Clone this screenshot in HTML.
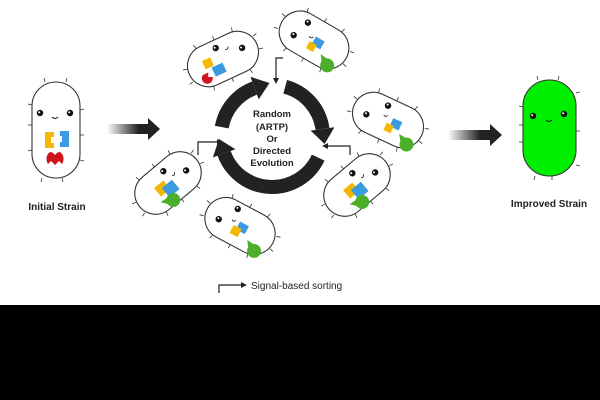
<!DOCTYPE html>
<html><head><meta charset="utf-8"><style>
html,body{margin:0;padding:0;background:#fff}
svg{display:block}
text{font-family:"Liberation Sans",sans-serif}
</style></head><body>
<svg width="600" height="400" viewBox="0 0 600 400" xmlns="http://www.w3.org/2000/svg">
<defs>
<linearGradient id="g1" x1="0" x2="1"><stop offset="0" stop-color="#222" stop-opacity="0"/><stop offset="0.6" stop-color="#222"/></linearGradient>
<g id="cell">
 <g stroke="#333" stroke-width="0.8">
  <line x1="-20" y1="-21" x2="-21" y2="-25"/><line x1="0" y1="-21" x2="0" y2="-25"/><line x1="20" y1="-21" x2="21" y2="-25"/>
  <line x1="-20" y1="21" x2="-21" y2="25"/><line x1="0" y1="21" x2="0" y2="25"/><line x1="20" y1="21" x2="21" y2="25"/>
  <line x1="-37" y1="-6" x2="-41" y2="-7"/><line x1="37" y1="6" x2="41" y2="7"/><line x1="-37" y1="8" x2="-41" y2="9"/><line x1="37" y1="-8" x2="41" y2="-9"/>
 </g>
 <rect x="-37" y="-21" width="74" height="42" rx="21" fill="#fff" stroke="#333" stroke-width="1.1"/>
</g>
<g id="eye"><circle r="3.2" fill="#111"/><circle cx="-0.8" cy="-0.8" r="1" fill="#fff"/></g>
<g id="pac"><path d="M0,0 L6.5,-3 A7,7 0 1 1 6.5,3 Z" fill="#4caf2a" transform="rotate(30)"/></g>
</defs>

<!-- initial strain -->
<g stroke="#333" stroke-width="0.8">
 <line x1="45" y1="82" x2="44" y2="78"/><line x1="66" y1="82" x2="67" y2="78"/>
 <line x1="32" y1="105" x2="28" y2="104"/><line x1="32" y1="125" x2="28" y2="125"/><line x1="32" y1="150" x2="28" y2="151"/>
 <line x1="80" y1="110" x2="84" y2="109"/><line x1="80" y1="135" x2="84" y2="135"/><line x1="80" y1="160" x2="84" y2="161"/>
 <line x1="42" y1="178" x2="41" y2="182"/><line x1="62" y1="178" x2="63" y2="182"/>
</g>
<rect x="32" y="82" width="48" height="96" rx="24" fill="#fff" stroke="#333" stroke-width="1.1"/>
<use href="#eye" x="40" y="113"/><use href="#eye" x="70" y="113"/>
<path d="M52,117 q3,3 6,0" fill="none" stroke="#111" stroke-width="0.9"/>
<path d="M45,132 h9 v5 h-3 v6 h3 v5 h-9 z" fill="#f5b800"/>
<path d="M60,131 h9 v16 h-9 v-5 h2 v-6 h-2 z" fill="#3a9be0"/>
<path d="M50,152 q3,0 5,3 q2,-3 5,-3 a7,8 0 0 1 2,12 l-3,-3 l-4,4 l-4,-4 l-3,3 a7,8 0 0 1 2,-12z" fill="#d0141c"/>
<text x="57" y="210" text-anchor="middle" font-size="10" font-weight="bold" fill="#222">Initial Strain</text>

<!-- improved strain -->
<g stroke="#333" stroke-width="0.8">
 <line x1="538" y1="80" x2="537" y2="76"/><line x1="558" y1="80" x2="559" y2="76"/>
 <line x1="523" y1="107" x2="519" y2="106"/><line x1="523" y1="125" x2="519" y2="125"/><line x1="523" y1="142" x2="519" y2="142"/>
 <line x1="576" y1="93" x2="580" y2="92"/><line x1="576" y1="131" x2="580" y2="131"/><line x1="576" y1="165" x2="580" y2="166"/>
 <line x1="535" y1="176" x2="534" y2="180"/><line x1="552" y1="176" x2="552" y2="180"/>
</g>
<rect x="523" y="80" width="53" height="96" rx="26" fill="#00ee00" stroke="#333" stroke-width="1.1"/>
<use href="#eye" x="533" y="116"/><use href="#eye" x="564" y="114"/>
<path d="M546,120 q3,3 6,0" fill="none" stroke="#111" stroke-width="0.9"/>
<text x="549" y="207" text-anchor="middle" font-size="10" font-weight="bold" fill="#222">Improved Strain</text>

<!-- big arrows -->
<path d="M107,124 H148 V118 L160,129 L148,140 V134 H107 Z" fill="url(#g1)"/>
<path d="M448,130 H490 V124 L502,135 L490,146 V140 H448 Z" fill="url(#g1)"/>

<!-- ring -->
<g fill="none" stroke="#222" stroke-width="14">
 <path d="M221.8,127.1 A51,51 0 0 1 254.6,88.1"/>
 <path d="M285.2,86.7 A51,51 0 0 1 322.5,128.9"/>
 <path d="M318.2,157.6 A51,51 0 0 1 224.1,153.4"/>
</g>
<g fill="#222">
 <path d="M250.5,76.8 L258.7,99.4 L269.5,83 Z"/>
 <path d="M334.4,127.2 L310.6,130.6 L324.6,144 Z"/>
 <path d="M212.8,157.5 L235.4,149.3 L219,139 Z"/>
</g>
<g font-size="9.5" font-weight="bold" fill="#222" text-anchor="middle">
 <text x="272" y="117">Random</text><text x="272" y="130">(ARTP)</text><text x="272" y="142">Or</text><text x="272" y="154">Directed</text><text x="272" y="166">Evolution</text>
</g>

<!-- signal arrows -->
<g fill="none" stroke="#222" stroke-width="1.2">
 <path d="M283,58 H276 V78"/>
 <path d="M198,155 V142 H217"/>
 <path d="M350,155 V146 H328"/>
 <path d="M219,293 V285 H241"/>
</g>
<g fill="#222">
 <path d="M273,78 L279,78 L276,84 Z"/>
 <path d="M217,139 L217,145 L223,142 Z"/>
 <path d="M328,143 L328,149 L322,146 Z"/>
 <path d="M241,282 L241,288 L247,285 Z"/>
</g>
<text x="251" y="289" font-size="10" fill="#222">Signal-based sorting</text>

<!-- cells -->
<g transform="translate(223,59) rotate(-25)">
 <use href="#cell"/>
 <use href="#eye" x="-2" y="-13"/><use href="#eye" x="22" y="-2"/>
 <path d="M6,-8 q2,2 4,-1" fill="none" stroke="#111" stroke-width="0.8"/>
 <rect x="-20" y="-7" width="9" height="9" fill="#f5b800"/>
 <rect x="-14" y="3" width="12" height="10" fill="#3a9be0"/>
 <path d="M-25,6 a5.5,5.5 0 1 0 8,6 l-4,-2 l2,-4 z" fill="#d0141c"/>
</g>
<g transform="translate(314,40) rotate(30)">
 <use href="#cell"/>
 <use href="#eye" x="-14" y="-12"/><use href="#eye" x="-20" y="6"/>
 <path d="M-6,-1 q2,2 4,-1" fill="none" stroke="#111" stroke-width="0.8"/>
 <rect x="0" y="-4" width="10" height="9" fill="#3a9be0"/>
 <rect x="-3" y="3" width="8" height="8" fill="#f5b800"/>
 <use href="#pac" x="13" y="9"/>
</g>
<g transform="translate(388,120) rotate(25)">
 <use href="#cell"/>
 <use href="#eye" x="-6" y="-13"/><use href="#eye" x="-22" y="4"/>
 <path d="M-6,-3 q2,2 4,-1" fill="none" stroke="#111" stroke-width="0.8"/>
 <rect x="4" y="-4" width="10" height="9" fill="#3a9be0"/>
 <rect x="0" y="3" width="8" height="8" fill="#f5b800"/>
 <use href="#pac" x="16" y="8"/>
</g>
<g transform="translate(357,185) rotate(-40)">
 <use href="#cell"/>
 <use href="#eye" x="4" y="-12"/><use href="#eye" x="22" y="2"/>
 <path d="M8,-3 q2,2 4,-1" fill="none" stroke="#111" stroke-width="0.8"/>
 <rect x="-14" y="-5" width="12" height="11" fill="#f5b800"/>
 <rect x="-8" y="0" width="13" height="12" fill="#3a9be0"/>
 <use href="#pac" x="-18" y="10"/>
</g>
<g transform="translate(168,183) rotate(-40)">
 <use href="#cell"/>
 <use href="#eye" x="4" y="-12"/><use href="#eye" x="22" y="2"/>
 <path d="M8,-3 q2,2 4,-1" fill="none" stroke="#111" stroke-width="0.8"/>
 <rect x="-14" y="-5" width="12" height="11" fill="#f5b800"/>
 <rect x="-8" y="0" width="13" height="12" fill="#3a9be0"/>
 <use href="#pac" x="-18" y="10"/>
</g>
<g transform="translate(240,226) rotate(28)">
 <use href="#cell"/>
 <use href="#eye" x="-10" y="-14"/><use href="#eye" x="-22" y="4"/>
 <path d="M-10,-2 q2,2 4,-1" fill="none" stroke="#111" stroke-width="0.8"/>
 <rect x="-2" y="-4" width="10" height="9" fill="#3a9be0"/>
 <rect x="-6" y="2" width="9" height="9" fill="#f5b800"/>
 <use href="#pac" x="13" y="9"/>
</g>

<rect x="0" y="305" width="600" height="95" fill="#000"/>
</svg>
</body></html>
